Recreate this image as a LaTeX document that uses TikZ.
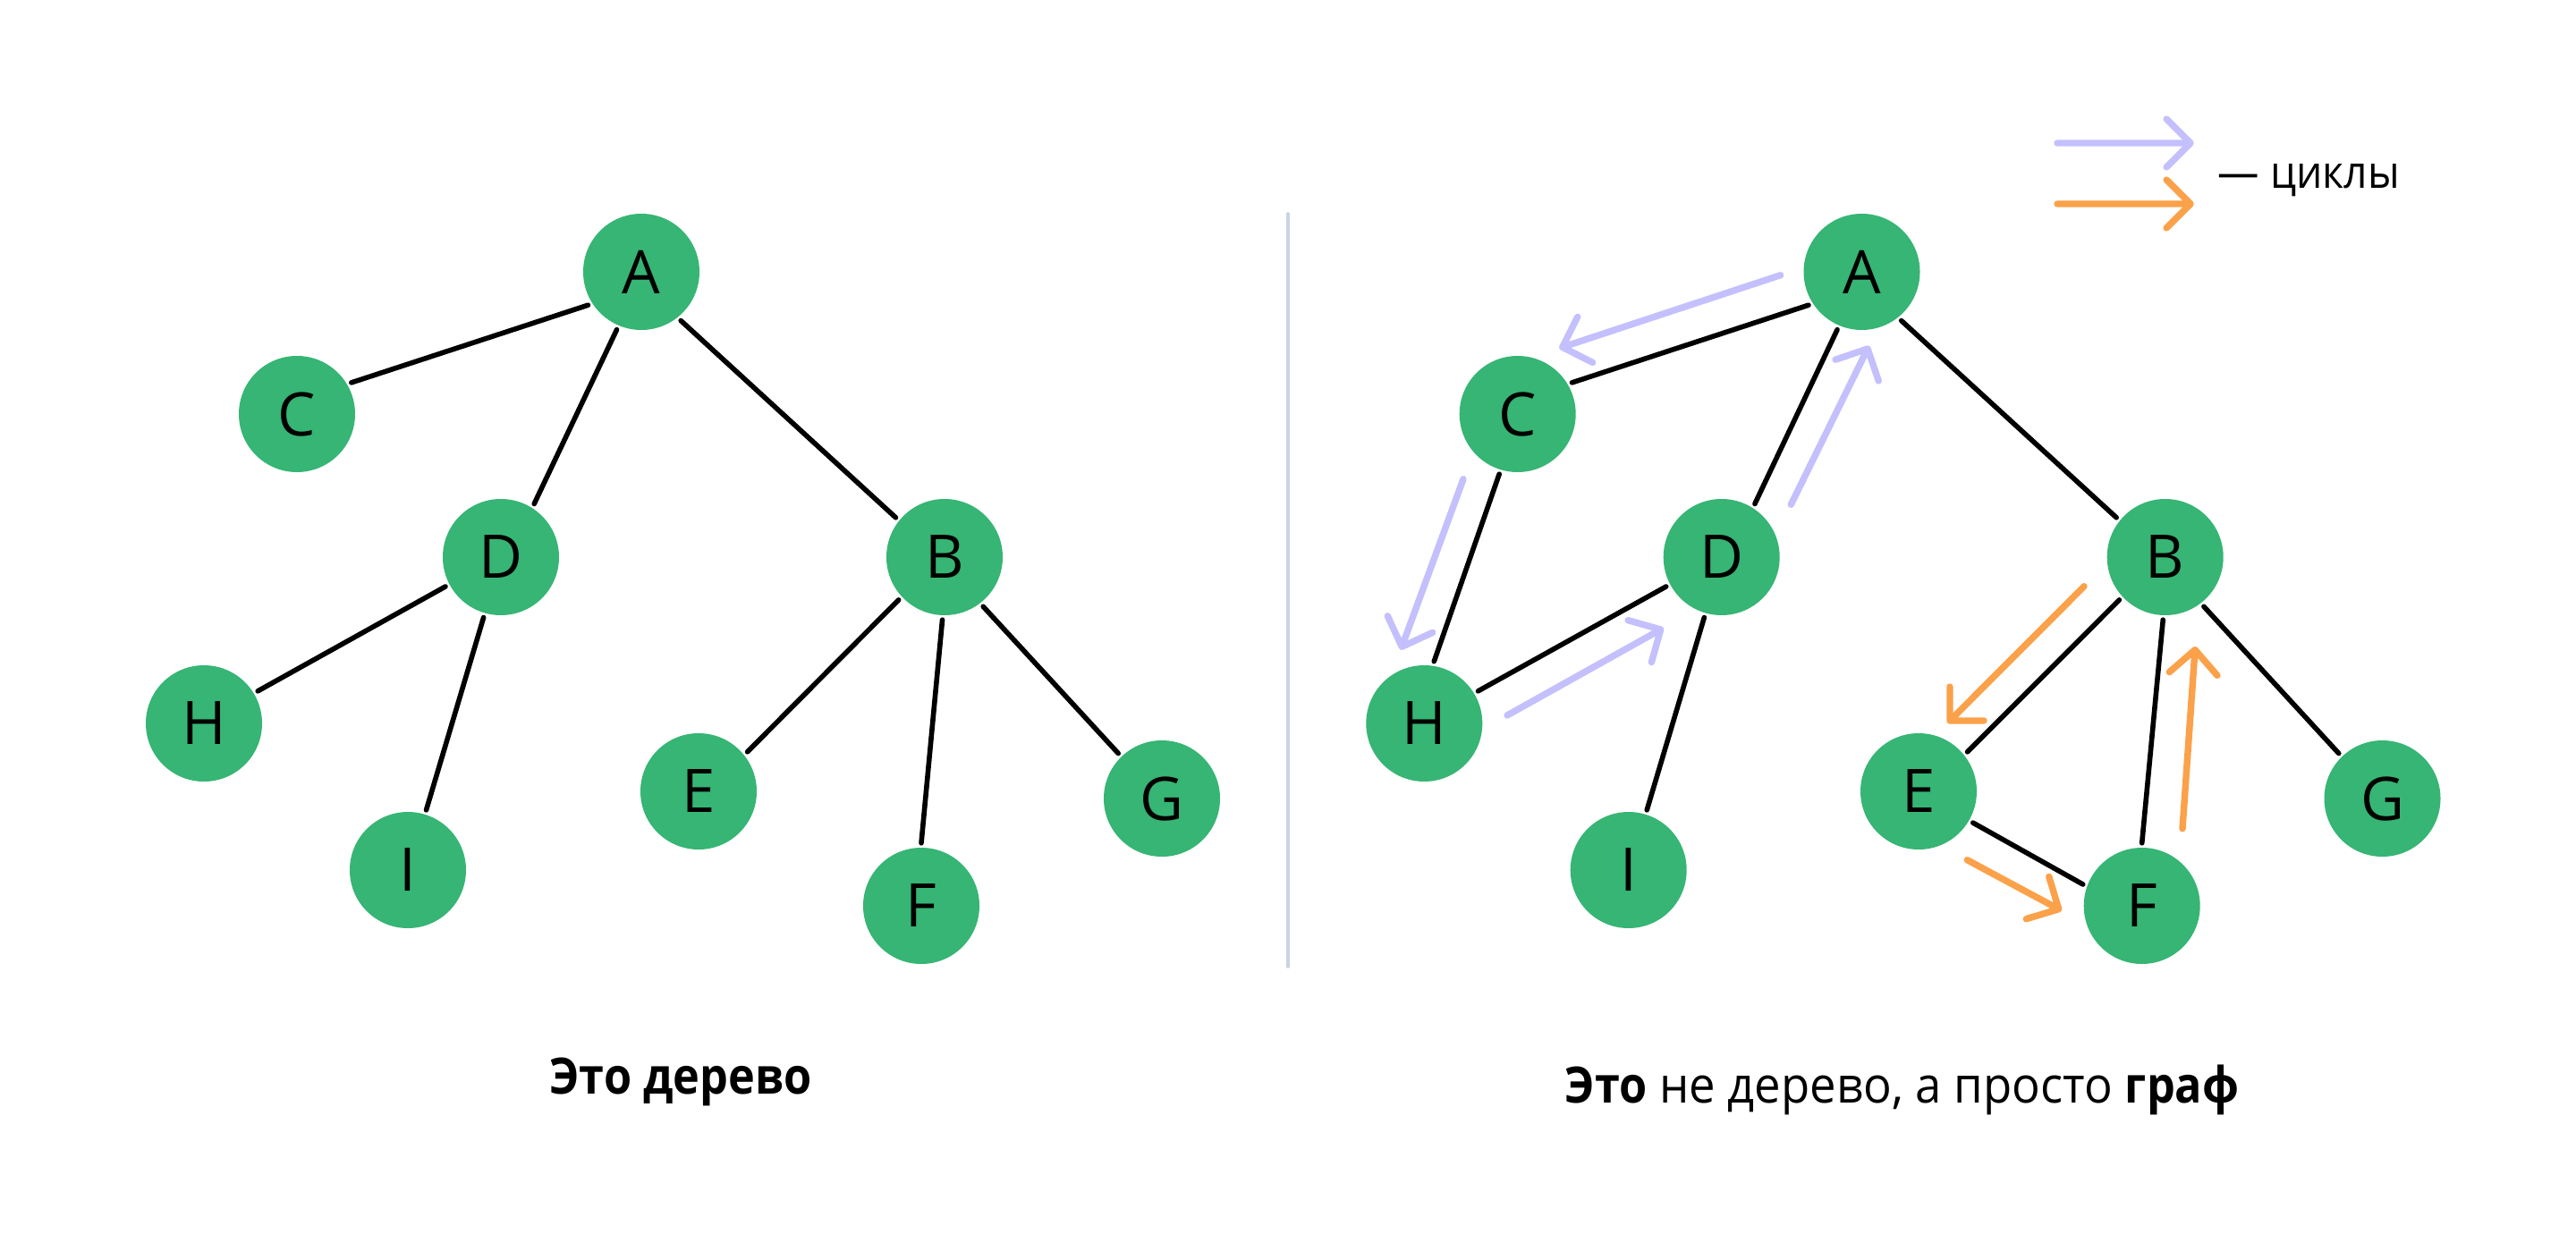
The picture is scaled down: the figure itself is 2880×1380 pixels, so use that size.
\documentclass[tikz,border=0pt]{standalone}
\usepackage{fontspec}
\setmainfont{Open Sans}
\newfontfamily\capfont{Open Sans}[FakeStretch=0.94,BoldFeatures={FakeStretch=0.90}]
\newfontfamily\legfont{Open Sans}[FakeStretch=0.92]
\usetikzlibrary{calc}
\definecolor{nodegreen}{HTML}{36B574}
\definecolor{cyclav}{HTML}{C4C0FD}
\definecolor{cycorange}{HTML}{FBA14A}
\definecolor{dividercol}{HTML}{C9D3E3}
\newcommand{\cycarrow}[3]{\draw[cycline,#1] (#2) -- (#3) ($(#3)!9.5pt!45:(#2)$) -- (#3) -- ($(#3)!9.5pt!-45:(#2)$);}
\begin{document}
\begin{tikzpicture}[x=0.25pt,y=-0.25pt,
  vert/.style={circle,fill=nodegreen,minimum size=32.5pt,inner sep=0pt,outer sep=1.3pt,
    font=\fontsize{16.8}{20}\selectfont},
  edge/.style={line width=1.4pt,line cap=round,black},
  cycline/.style={line width=1.85pt,line cap=round,line join=round},
  caption/.style={inner sep=0pt,anchor=base,font=\capfont\fontsize{14}{17}\selectfont},
]
\fill[white] (0,0) rectangle (2880,1380);
\useasboundingbox (0,0) rectangle (2880,1380);

% divider
\coordinate (divT) at (1440,239);
\coordinate (divB) at (1440,1081);
\draw[dividercol,line width=0.9pt,line cap=round] (divT) -- (divB);

% ---------- left: tree ----------
\node[vert] (lA) at (717,304) {A};
\node[vert] (lC) at (332,463) {C};
\node[vert] (lD) at (560,623) {D};
\node[vert] (lB) at (1056,623) {B};
\node[vert] (lH) at (228,809) {H};
\node[vert] (lI) at (456,973) {I};
\node[vert] (lE) at (781,885) {E};
\node[vert] (lF) at (1030,1013) {F};
\node[vert] (lG) at (1299,893) {G};
\draw[edge] (lA.212) -- (lC.30);
\draw[edge] (lA.247) -- (lD.58);
\draw[edge] (lA.309) -- (lB.141);
\draw[edge] (lD.208) -- (lH.31);
\draw[edge] (lD.254) -- (lI.73);
\draw[edge] (lB.223) -- (lE.39);
\draw[edge] (lB.268) -- (lF.90);
\draw[edge] (lB.308) -- (lG.134);

% ---------- right: graph ----------
\node[vert] (rA) at (2081.5,304) {A};
\node[vert] (rC) at (1696.7,463) {C};
\node[vert] (rD) at (1924.7,623) {D};
\node[vert] (rB) at (2420.7,623) {B};
\node[vert] (rH) at (1592.3,809) {H};
\node[vert] (rI) at (1820.7,973) {I};
\node[vert] (rE) at (2145,885) {E};
\node[vert] (rF) at (2394.7,1013) {F};
\node[vert] (rG) at (2663.5,893) {G};
\draw[edge] (rA.212) -- (rC.30);
\draw[edge] (rA.247) -- (rD.58);
\draw[edge] (rA.309) -- (rB.141);
\draw[edge] (rC.253) -- (rH.81);
\draw[edge] (rD.208) -- (rH.31);
\draw[edge] (rD.254) -- (rI.73);
\draw[edge] (rB.223) -- (rE.39);
\draw[edge] (rB.268) -- (rF.90);
\draw[edge] (rB.308) -- (rG.134);
\draw[edge] (rE.330) -- (rF.160);

% cycle arrows
\coordinate (p1s) at (1990.7,307.7);  \coordinate (p1t) at (1746.7,388.3);
\coordinate (p2s) at (1636,535.7);    \coordinate (p2t) at (1567.3,723.3);
\coordinate (p3s) at (1685,800);      \coordinate (p3t) at (1856.7,704);
\coordinate (p4s) at (2002.3,564.3);  \coordinate (p4t) at (2088,390);
\coordinate (o1s) at (2330,655.7);    \coordinate (o1t) at (2180,806);
\coordinate (o2s) at (2199.3,961.7);  \coordinate (o2t) at (2301.7,1016.7);
\coordinate (o3s) at (2440,926.7);    \coordinate (o3t) at (2454,726.7);
\cycarrow{cyclav}{p1s}{p1t}
\cycarrow{cyclav}{p2s}{p2t}
\cycarrow{cyclav}{p3s}{p3t}
\cycarrow{cyclav}{p4s}{p4t}
\cycarrow{cycorange}{o1s}{o1t}
\cycarrow{cycorange}{o2s}{o2t}
\cycarrow{cycorange}{o3s}{o3t}

% legend
\coordinate (lgPs) at (2300,160); \coordinate (lgPt) at (2449,160);
\coordinate (lgOs) at (2300,228); \coordinate (lgOt) at (2449,228);
\cycarrow{cyclav}{lgPs}{lgPt}
\cycarrow{cycorange}{lgOs}{lgOt}
\node[inner sep=0pt,anchor=base west,font=\legfont\fontsize{12.6}{15}\selectfont] (legtext) at (2479,210) {— циклы};

% captions
\node[caption,font=\capfont\fontsize{14}{17}\selectfont\bfseries] (capL) at (761,1223) {Это дерево};
\node[caption] (capR) at (2126.5,1233) {\textbf{Это} не дерево, а просто \textbf{граф}};
\end{tikzpicture}
\end{document}
